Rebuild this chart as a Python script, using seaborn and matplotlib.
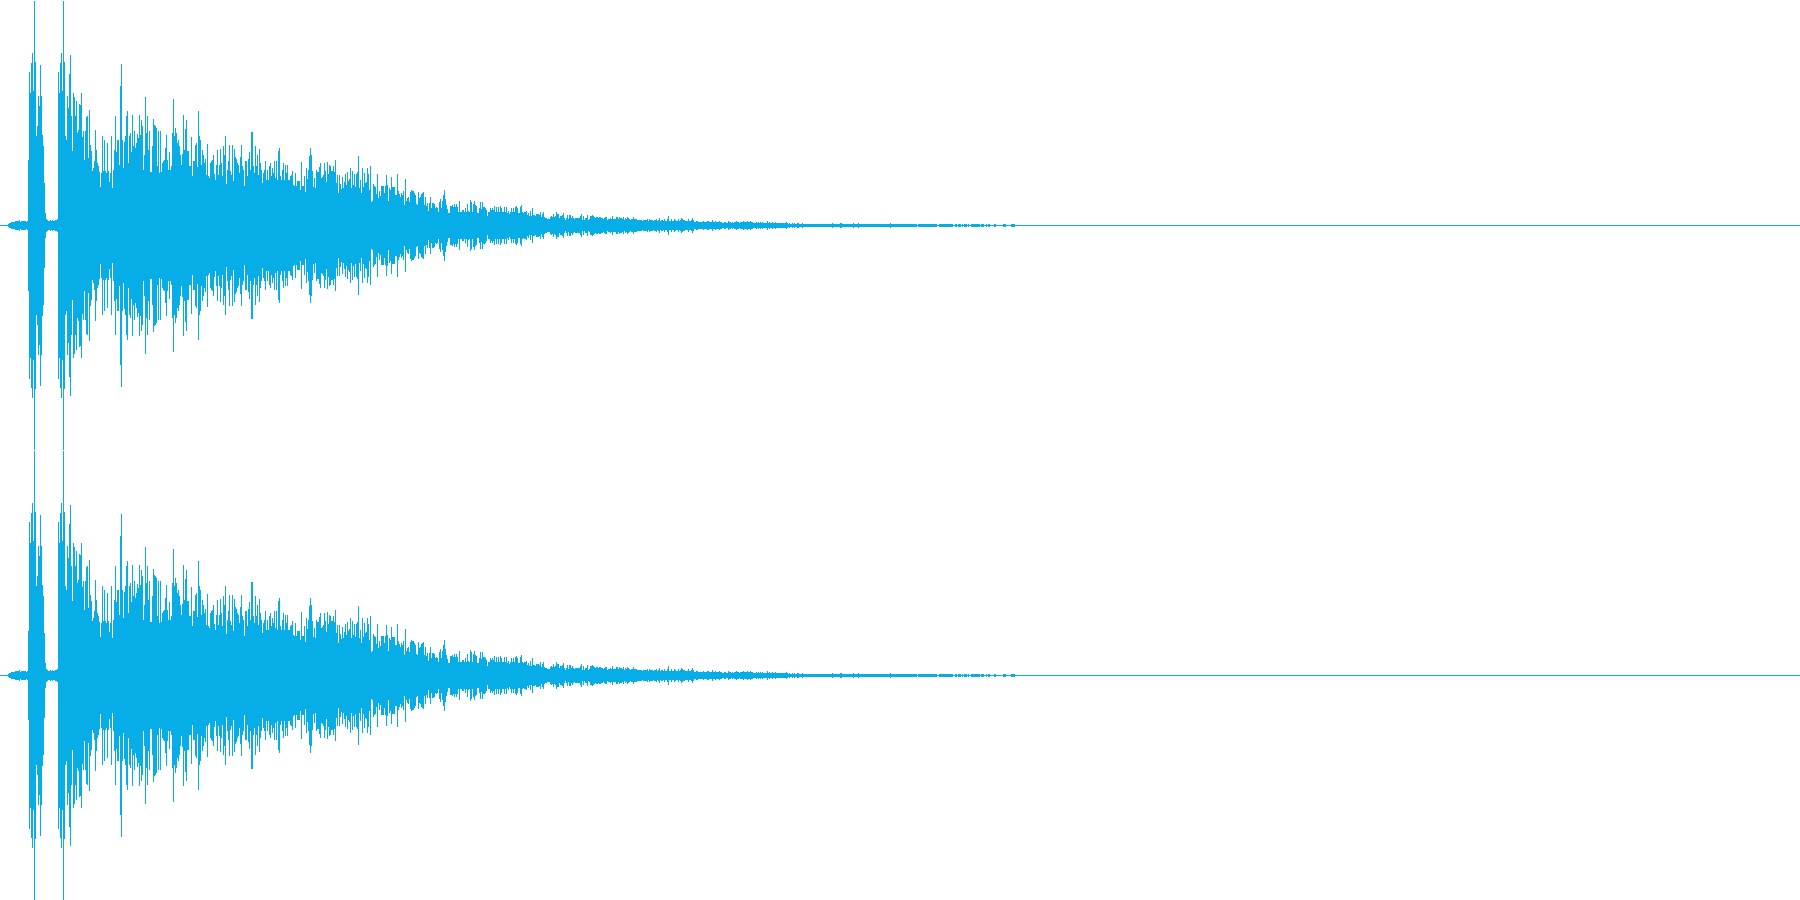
import numpy as np
import pandas as pd
import matplotlib
matplotlib.use("Agg")
import matplotlib.pyplot as plt
import seaborn as sns

# Peak amplitude of the waveform per pixel column
peak_000 = [0,0,0,0,0,0,0,0,1,2,2,3,3,3,3,4,4,4,4,5,3,4,4,4,4,4,3,4,
            65,153,132,162,172,134,224,163,89,99,129,119,160,129,90,79,42,12,
            6,5,4,4,5,4,5,4,4,5,5,6,
            153,132,162,172,134,224,163,89,85,129,117,151,170,109,74,132,128,109,124,92,95,121,120,132,88,94,65,94,108,109,67,115,80,74,54,57,64,95,75,62,59,53,
            38,52,89,54,85,54,52,82,54,43,52,89,37,55,75,109,73,85,85,60,
            139,161,85,57,83,89,109,114,62,89,92,73,110,79,94,77,82,91,87,110,90,105,99,55,70,128,92,109,75,94,
            53,53,79,106,100,99,97,59,94,52,94,53,62,64,65,77,90,65,55,73,55,59,92,126,89,97,92,82,85,79,70,60,71,110,75,96,105,74,74,59,59,88,49,64,64,80,82,58,114,89,
            85,60,75,70,62,66,50,81,49,47,62,64,65,70,51,45,60,75,50,60,76,62,49,79,70,89,41,55,64,80,54,50,80,44,76,68,66,62,60,52,68,80,59,55,39,64,64,49,66,73,
            55,93,93,59,52,79,59,70,50,76,62,55,42,52,55,64,45,55,45,59,62,49,57,52,64,47,64,45,74,77,49,45,55,62,45,60,52,60,45,45,49,50,54,40,39,52,39,44,44,44]
peak_300 = [35,63,39,39,49,33,57,46,55,69,77,70,54,38,47,37,55,53,53,58,62,47,48,50,62,54,43,63,51,60,59,54,54,59,53,65,42,50,32,50,41,36,48,37,43,51,40,53,44,46,
            57,37,54,40,51,38,51,53,69,37,45,32,57,38,52,42,43,57,51,35,59,23,24,41,39,38,31,51,27,34,29,39,39,39,32,39,50,40,24,37,35,48,38,38,38,30,30,51,34,31,
            28,32,30,34,20,46,24,27,28,23,33,35,34,34,32,30,21,20,33,27,28,31,32,33,20,28,19,22,14,22,28,17,22,22,21,17,18,17,13,23,26,17,24,30,35,26,20,16,12,12,
            19,19,20,18,21,18,21,18,13,24,13,13,15,15,13,17,13,21,14,13,25,23,13,21,24,20,19,12,12,17,23,16,23,18,18,17,15,9,13,13,17,15,17,15,19,13,18,13,18,13,
            19,17,13,13,18,13,18,12,14,11,13,17,13,17,13,18,19,17,12,12,18,20,13,12,13,13,14,10,12,9,14,9,17,10,10,9,11,11,11,10,13,8,11,13,8,7,7,6,6,6,
            8,9,8,11,8,9,13,11,11,7,9,9,10,12,7,5,7,10,6,10,10,7,9,7,6,7,7,7,7,7,9,11,5,9,5,7,7,10,5,6,9,9,10,9,8,7,8,8,7,8]
peak_600 = [8,7,7,6,7,8,8,5,6,6,7,6,9,6,6,6,8,8,6,8,7,7,6,8,5,7,6,8,7,6,5,6,6,8,6,6,6,5,5,5,5,5,4,5,5,5,5,6,4,6,
            5,5,5,4,5,5,6,4,5,7,4,5,5,4,6,4,4,6,9,4,4,6,4,4,6,5,4,4,6,4,5,7,6,5,5,4,4,4,6,4,4,5,7,5,3,3,4,4,3,3,
            3,3,3,4,3,3,3,4,4,3,3,3,5,3,3,4,3,3,3,4,3,3,2,2,3,3,2,2,4,3,3,2,3,2,3,3,4,3,3,2,3,3,3,4,3,3,3,4,3,3,
            4,3,3,2,2,2,3,2,3,2,3,2,3,2,2,2,2,4,2,3,2,2,3,2,2,3,2,2,2,2,2,2,2,2,2,2,3,2,1,2,1,1,2,1,2,1,1,2,2,1,
            1,1,2,1,1,1,1,1,1,1,1,1,1,1,1,1,1,1,1,1,1,1,1,1,1,1,1,1,1,1,1,1,2,1,1,1,1,1,1,1,2,2,1,1,1,1,1,1,1,1]
peak_850 = [1,1,1,2,1,1,1,1,2,1,1,1,1,1,1,1,1,1,1,1,1,1,1,1,1,1,1,1,1,1,1,1,1,1,1,1,1,1,1,1,2,1,1,1,1,1,1,1,1,1,
            1,1,1,1,1,1,1,1,1,1,1,1,1,1,1,1,1,0,1,1,1,1,1,1,1,1,1,1,1,1,1,1,1,1,1,1,1,0,0,1,1,1,1,1,1,1,1,1,1,1,
            1,1,1,0,0,1,1,0,1,1,1,0,1,0,1,1,1,0,1,0,0,1,1,1,1,1,1,1,1,1,0,1,1,1,0,0,1,0,1,1,0,0,0,0,1,1,0,0,0,0,
            0,0,0,1,1,1,0,0,0,0,0,1,1,1,1,0,0,0,0,0]

peak_left = np.array(peak_000 + peak_300 + peak_600 + peak_850, dtype=float)
peak_right = peak_left.copy()
peak_right[28] = 44     # the one column where the lower channel reads differently
total_columns = 1800
wave_color = "#06ADE6"


def frame(peak):
    cols = np.arange(len(peak))
    df = pd.DataFrame({
        "column": np.concatenate([cols, cols]) + 0.25,
        "amp": np.concatenate([peak, -peak]),
        "unit": np.concatenate([cols, cols]),
    })
    return df[np.abs(df["amp"]) > 0]


sns.set_theme(style="white")
fig, axes = plt.subplots(2, 1, figsize=(18, 9), dpi=100)
fig.subplots_adjust(left=0, right=1, top=1, bottom=0, hspace=0)
fig.patch.set_facecolor("white")

for ax, peak in zip(axes, [peak_left, peak_right]):
    ax.axhline(0, color=wave_color, linewidth=0.72, antialiased=False)
    sns.lineplot(data=frame(peak), x="column", y="amp", units="unit", estimator=None, sort=False,
                 color=wave_color, linewidth=0.72, antialiased=False,
                 solid_capstyle="butt", legend=False, ax=ax)
    ax.set_xlim(0, total_columns)
    ax.set_ylim(-225.25, 224.75)
    ax.axis("off")

fig.savefig("out.png", dpi=100, facecolor="white")
